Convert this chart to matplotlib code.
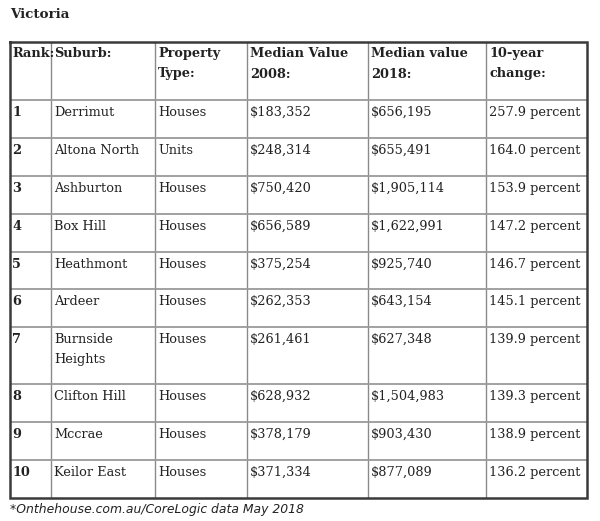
import matplotlib
matplotlib.use("Agg")
import matplotlib.pyplot as plt

title = "Victoria"
headers = ["Rank:", "Suburb:", "Property\nType:", "Median Value\n2008:", "Median value\n2018:", "10-year\nchange:"]
ranks = ["1", "2", "3", "4", "5", "6", "7", "8", "9", "10"]
suburbs = ["Derrimut", "Altona North", "Ashburton", "Box Hill", "Heathmont", "Ardeer",
           "Burnside\nHeights", "Clifton Hill", "Mccrae", "Keilor East"]
prop_types = ["Houses", "Units", "Houses", "Houses", "Houses", "Houses", "Houses", "Houses", "Houses", "Houses"]
value_2008 = ["$183,352", "$248,314", "$750,420", "$656,589", "$375,254", "$262,353",
              "$261,461", "$628,932", "$378,179", "$371,334"]
value_2018 = ["$656,195", "$655,491", "$1,905,114", "$1,622,991", "$925,740", "$643,154",
              "$627,348", "$1,504,983", "$903,430", "$877,089"]
change_10yr = ["257.9 percent", "164.0 percent", "153.9 percent", "147.2 percent", "146.7 percent",
               "145.1 percent", "139.9 percent", "139.3 percent", "138.9 percent", "136.2 percent"]
footnote = "*Onthehouse.com.au/CoreLogic data May 2018"

W, H = 600, 521
fig = plt.figure(figsize=(W / 100, H / 100), dpi=100)
ax = fig.add_axes([0, 0, 1, 1])
ax.set_xlim(0, W)
ax.set_ylim(H, 0)
ax.axis("off")

col_x = [10, 51, 155, 247, 368, 486, 587]
row_y = [42, 100, 138, 176, 214, 252, 289, 327, 384, 422, 460, 498]

serif = ["DejaVu Serif"]
fs = 9.3

# title
ax.text(10, 15, title, fontsize=9.6, fontweight="bold", family=serif, va="center", ha="left", color="#222222")

# inner lines
for x in col_x[1:-1]:
    ax.plot([x, x], [row_y[0], row_y[-1]], color="#8a8a8a", lw=1.0, solid_capstyle="butt")
for y in row_y[1:-1]:
    ax.plot([col_x[0], col_x[-1]], [y, y], color="#9a9a9a", lw=1.3, solid_capstyle="butt")
# outer border
ax.plot([col_x[0], col_x[-1], col_x[-1], col_x[0], col_x[0]],
        [row_y[0], row_y[0], row_y[-1], row_y[-1], row_y[0]],
        color="#3a3a3a", lw=1.8, solid_joinstyle="miter")

pad = 3
top_pad = 5
for j, h in enumerate(headers):
    ax.text(col_x[j] + pad - (1 if j == 0 else 0), row_y[0] + top_pad, h, fontsize=fs, fontweight="bold",
            family=serif, va="top", ha="left", color="#222222", linespacing=1.75)

columns = [ranks, suburbs, prop_types, value_2008, value_2018, change_10yr]
for i in range(len(ranks)):
    for j, col in enumerate(columns):
        ax.text(col_x[j] + pad - (1 if j == 0 else 0), row_y[i + 1] + top_pad + 1, col[i], fontsize=fs,
                fontweight="bold" if j == 0 else "normal",
                family=serif, va="top", ha="left", color="#222222", linespacing=1.7)

ax.text(10, 509, footnote, fontsize=8.9, style="italic", family=["DejaVu Sans"], va="center",
        ha="left", color="#222222")

fig.savefig("out.png", dpi=100, facecolor="white")
